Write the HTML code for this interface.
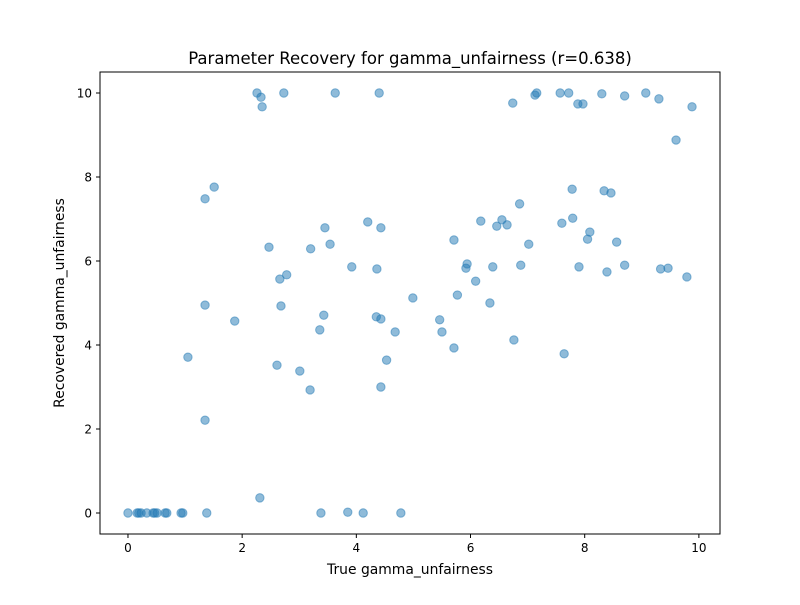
<!DOCTYPE html>
<html><head><meta charset="utf-8"><style>
body{margin:0;background:#fff;font-family:"Liberation Sans","DejaVu Sans",sans-serif}
</style></head><body>
<svg id="chart" width="800" height="600" xmlns="http://www.w3.org/2000/svg" font-family="DejaVu Sans, Liberation Sans, sans-serif">
<rect width="800" height="600" fill="#fff"/>
<text x="410" y="64" text-anchor="middle" font-size="16.5">Parameter Recovery for gamma_unfairness (r=0.638)</text>
<g id="marks"></g>
<g id="axes"></g>
<rect x="100" y="72" width="620" height="462" fill="none" stroke="#000" stroke-width="1"/>
<text x="410" y="574" text-anchor="middle" font-size="13.9">True gamma_unfairness</text>
<text transform="translate(64,303) rotate(-90)" text-anchor="middle" font-size="13.9">Recovered gamma_unfairness</text>
</svg>
<script>
const trueVals=[0,0.16,0.19,0.23,0.33,0.44,0.47,0.51,0.65,0.68,0.93,0.96,1.38,2.31,3.38,3.85,4.12,4.78,
2.26,2.33,2.35,2.73,3.63,4.4,1.35,1.51,1.35,1.87,1.05,1.35,2.47,2.66,2.78,2.68,2.61,3.01,3.19,
3.2,3.45,3.54,3.43,3.36,3.92,4.2,4.43,4.36,4.35,4.43,4.68,4.53,4.43,4.99,
5.71,5.77,5.46,5.5,5.71,5.92,5.94,6.09,6.18,6.34,6.39,6.46,6.55,6.64,6.86,6.88,7.02,6.76,6.74,7.13,7.16,
7.57,7.72,7.88,7.97,8.3,8.7,9.07,9.3,9.88,9.6,7.6,7.78,7.79,8.34,8.46,8.09,8.05,8.56,7.9,8.39,8.7,9.33,9.46,9.79,7.64];
const recVals=[0,0,0,0,0,0,0,0,0,0,0,0,0,0.36,0,0.02,0,0,
10,9.9,9.67,10,10,10,7.48,7.76,4.95,4.57,3.71,2.21,6.33,5.57,5.67,4.93,3.52,3.38,2.93,
6.29,6.79,6.4,4.71,4.36,5.86,6.93,6.79,5.81,4.67,4.62,4.31,3.64,3.0,5.12,
6.5,5.19,4.6,4.31,3.93,5.83,5.93,5.52,6.95,5.0,5.86,6.83,6.98,6.86,7.36,5.9,6.4,4.12,9.76,9.95,10,
10,10,9.74,9.74,9.98,9.93,10,9.86,9.67,8.88,6.9,7.71,7.02,7.67,7.62,6.69,6.52,6.45,5.86,5.74,5.9,5.81,5.83,5.62,3.79];
const xTicks=[0,2,4,6,8,10];
const yTicks=[0,2,4,6,8,10];
const xMin=-0.49,xMax=10.37,yMin=-0.5,yMax=10.5;
const L=100,R=720,T=72,B=534;
const sx=v=>L+(v-xMin)/(xMax-xMin)*(R-L);
const sy=v=>B-(v-yMin)/(yMax-yMin)*(B-T);
const NS="http://www.w3.org/2000/svg";
const marks=document.getElementById('marks'),axes=document.getElementById('axes');
trueVals.forEach((x,i)=>{
 const c=document.createElementNS(NS,'circle');
 c.setAttribute('cx',sx(x));c.setAttribute('cy',sy(recVals[i]));c.setAttribute('r',4.2);
 c.setAttribute('fill','#1f77b4');c.setAttribute('fill-opacity','0.5');
 c.setAttribute('stroke','#1f77b4');c.setAttribute('stroke-opacity','0.5');c.setAttribute('stroke-width','1');
 
 
 marks.appendChild(c);
});
xTicks.forEach(t=>{
 const l=document.createElementNS(NS,'line');
 l.setAttribute('x1',sx(t));l.setAttribute('x2',sx(t));l.setAttribute('y1',B);l.setAttribute('y2',B+4);l.setAttribute('stroke','#000');
 
 
 axes.appendChild(l);
 const tx=document.createElementNS(NS,'text');
 tx.setAttribute('x',sx(t));tx.setAttribute('y',B+18);tx.setAttribute('text-anchor','middle');tx.setAttribute('font-size','12');
 tx.textContent=t;
 
 
 axes.appendChild(tx);
});
yTicks.forEach(t=>{
 const l=document.createElementNS(NS,'line');
 l.setAttribute('x1',L-4);l.setAttribute('x2',L);l.setAttribute('y1',sy(t));l.setAttribute('y2',sy(t));l.setAttribute('stroke','#000');
 
 
 axes.appendChild(l);
 const tx=document.createElementNS(NS,'text');
 tx.setAttribute('x',L-8);tx.setAttribute('y',sy(t)+4.5);tx.setAttribute('text-anchor','end');tx.setAttribute('font-size','12');
 tx.textContent=t;
 
 
 axes.appendChild(tx);
});
</script>
</body></html>
